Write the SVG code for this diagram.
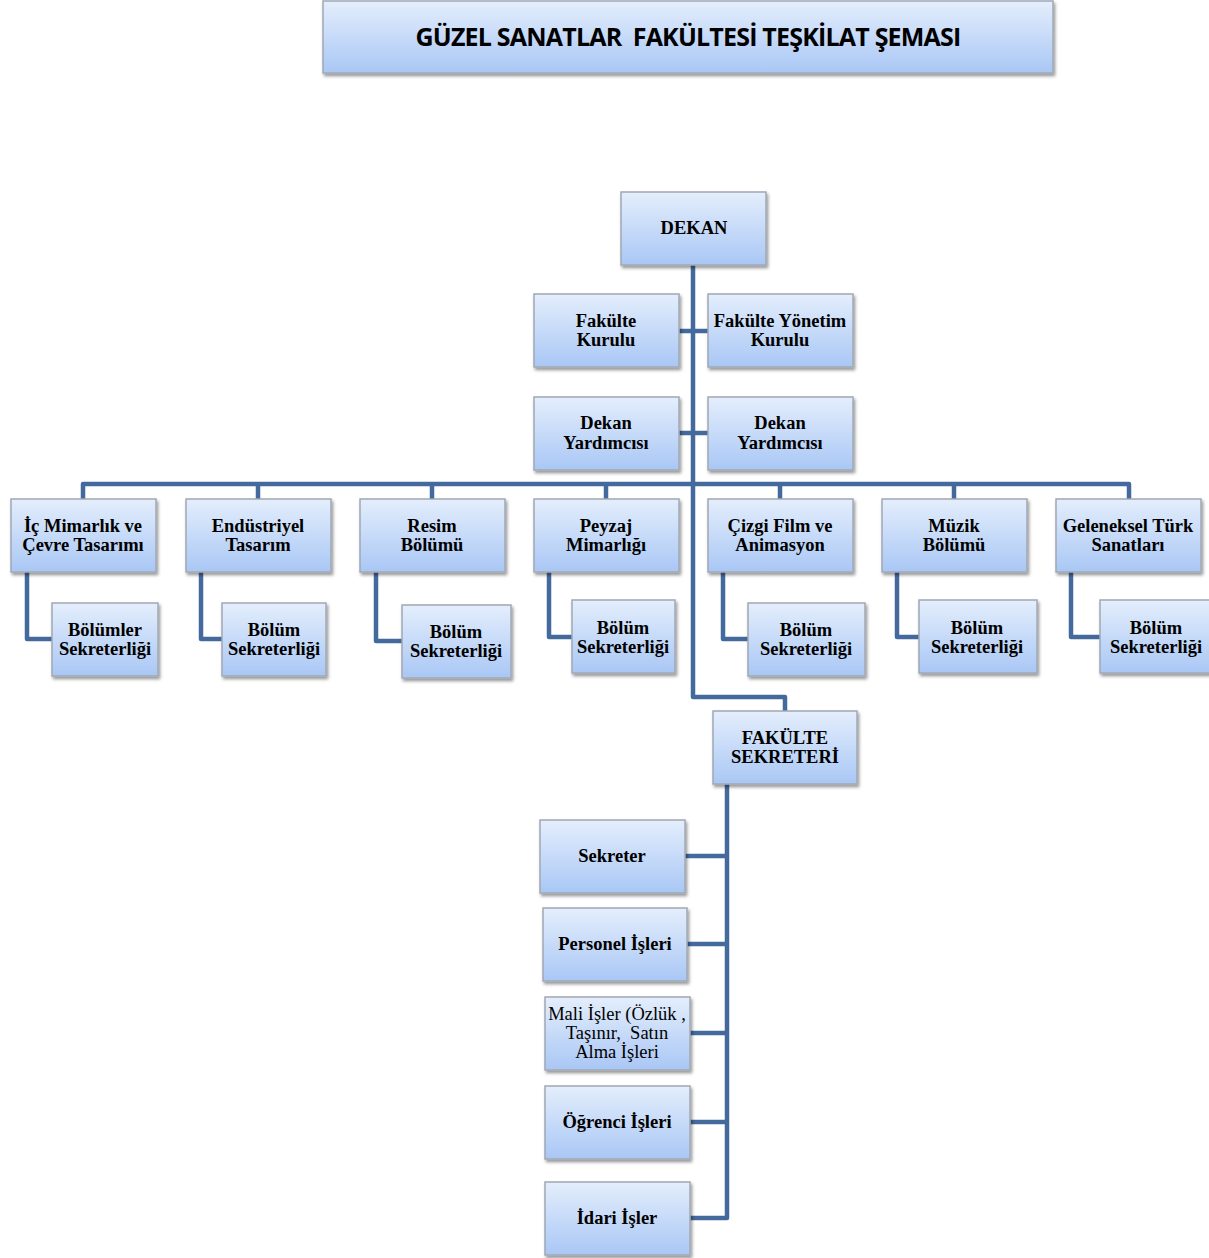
<svg xmlns="http://www.w3.org/2000/svg" width="1209" height="1258" viewBox="0 0 1209 1258">
<style>
.box{fill:url(#g);stroke:#a0a8b4;stroke-width:1.5;filter:url(#sh)}
.t{font-family:"Liberation Serif","Times New Roman",serif;font-weight:bold;font-size:18.5px;fill:#000;text-anchor:middle;white-space:pre}
.r{font-weight:normal}
.ttl{font-family:"Open Sans","Liberation Sans",Arial,sans-serif;font-weight:bold;font-size:25px;fill:#000;text-anchor:middle;letter-spacing:-0.8px;white-space:pre}
.c{fill:none;stroke:#44699c;stroke-width:4.5;stroke-linejoin:round;stroke-linecap:butt}
</style>
<defs>
<linearGradient id="g" x1="0" y1="0" x2="0" y2="1">
<stop offset="0" stop-color="#e4eefc"/>
<stop offset="1" stop-color="#a9c7f5"/>
</linearGradient>
<filter id="sh" x="-10%" y="-10%" width="125%" height="130%">
<feDropShadow dx="1.5" dy="2.5" stdDeviation="1.5" flood-color="#000" flood-opacity="0.4"/>
</filter>
</defs>
<rect width="1209" height="1258" fill="#fff"/>
<g id="connectors">
<path class="c" d="M693 265 V697 H785 V711"/>
<path class="c" d="M679 331 H708 M679 433 H708"/>
<path class="c" d="M83 499 V484 H1129 V499"/>
<path class="c" d="M258 484 V499 M432 484 V499 M606 484 V499 M780 484 V499 M954 484 V499"/>
<path class="c" d="M27 572 V639 H52"/>
<path class="c" d="M201 572 V639 H222"/>
<path class="c" d="M376 572 V641 H402"/>
<path class="c" d="M549 572 V637 H572"/>
<path class="c" d="M723 572 V639 H748"/>
<path class="c" d="M897 572 V637 H919"/>
<path class="c" d="M1071 572 V637 H1100"/>
<path class="c" d="M727 784 V1218 H690"/>
<path class="c" d="M685 856 H727 M687 944 H727 M690 1033 H727 M690 1122 H727"/>
</g>
<g id="title"><rect class="box" x="323" y="1" width="730" height="72"/><text class="ttl" x="688" y="46" xml:space="preserve">GÜZEL SANATLAR  FAKÜLTESİ TEŞKİLAT ŞEMASI</text></g>
<g id="dekan"><rect class="box" x="621" y="192" width="145" height="73"/><text class="t" x="694" y="234">DEKAN</text></g>
<g id="fakulte-kurulu"><rect class="box" x="534" y="294" width="145" height="73"/><text class="t" x="606" y="327">Fakülte</text><text class="t" x="606" y="346">Kurulu</text></g>
<g id="fakulte-yonetim-kurulu"><rect class="box" x="708" y="294" width="145" height="73"/><text class="t" x="780" y="327">Fakülte Yönetim</text><text class="t" x="780" y="346">Kurulu</text></g>
<g id="dekan-yardimcisi-1"><rect class="box" x="534" y="397" width="145" height="73"/><text class="t" x="606" y="429">Dekan</text><text class="t" x="606" y="449">Yardımcısı</text></g>
<g id="dekan-yardimcisi-2"><rect class="box" x="708" y="397" width="145" height="73"/><text class="t" x="780" y="429">Dekan</text><text class="t" x="780" y="449">Yardımcısı</text></g>
<g id="ic-mimarlik"><rect class="box" x="11" y="499" width="145" height="73"/><text class="t" x="83" y="532">İç Mimarlık ve</text><text class="t" x="83" y="551">Çevre Tasarımı</text></g>
<g id="endustriyel"><rect class="box" x="186" y="499" width="145" height="73"/><text class="t" x="258" y="532">Endüstriyel</text><text class="t" x="258" y="551">Tasarım</text></g>
<g id="resim"><rect class="box" x="360" y="499" width="145" height="73"/><text class="t" x="432" y="532">Resim</text><text class="t" x="432" y="551">Bölümü</text></g>
<g id="peyzaj"><rect class="box" x="534" y="499" width="145" height="73"/><text class="t" x="606" y="532">Peyzaj</text><text class="t" x="606" y="551">Mimarlığı</text></g>
<g id="cizgi-film"><rect class="box" x="708" y="499" width="145" height="73"/><text class="t" x="780" y="532">Çizgi Film ve</text><text class="t" x="780" y="551">Animasyon</text></g>
<g id="muzik"><rect class="box" x="882" y="499" width="145" height="73"/><text class="t" x="954" y="532">Müzik</text><text class="t" x="954" y="551">Bölümü</text></g>
<g id="geleneksel"><rect class="box" x="1056" y="499" width="145" height="73"/><text class="t" x="1128" y="532">Geleneksel Türk</text><text class="t" x="1128" y="551">Sanatları</text></g>
<g id="sek-1"><rect class="box" x="52" y="603" width="106" height="73"/><text class="t" x="105" y="636">Bölümler</text><text class="t" x="105" y="655">Sekreterliği</text></g>
<g id="sek-2"><rect class="box" x="222" y="603" width="104" height="73"/><text class="t" x="274" y="636">Bölüm</text><text class="t" x="274" y="655">Sekreterliği</text></g>
<g id="sek-3"><rect class="box" x="402" y="605" width="109" height="73"/><text class="t" x="456" y="638">Bölüm</text><text class="t" x="456" y="657">Sekreterliği</text></g>
<g id="sek-4"><rect class="box" x="572" y="600" width="103" height="73"/><text class="t" x="623" y="634">Bölüm</text><text class="t" x="623" y="653">Sekreterliği</text></g>
<g id="sek-5"><rect class="box" x="748" y="603" width="117" height="73"/><text class="t" x="806" y="636">Bölüm</text><text class="t" x="806" y="655">Sekreterliği</text></g>
<g id="sek-6"><rect class="box" x="919" y="600" width="118" height="73"/><text class="t" x="977" y="634">Bölüm</text><text class="t" x="977" y="653">Sekreterliği</text></g>
<g id="sek-7"><rect class="box" x="1100" y="600" width="112" height="73"/><text class="t" x="1156" y="634">Bölüm</text><text class="t" x="1156" y="653">Sekreterliği</text></g>
<g id="fakulte-sekreteri"><rect class="box" x="713" y="711" width="144" height="73"/><text class="t" x="785" y="744">FAKÜLTE</text><text class="t" x="785" y="763">SEKRETERİ</text></g>
<g id="sekreter"><rect class="box" x="540" y="820" width="145" height="73"/><text class="t" x="612" y="862">Sekreter</text></g>
<g id="personel"><rect class="box" x="543" y="908" width="144" height="73"/><text class="t" x="615" y="950">Personel İşleri</text></g>
<g id="mali"><rect class="box" x="545" y="997" width="145" height="73"/><text class="t r" x="617" y="1020">Mali İşler (Özlük ,</text><text class="t r" x="617" y="1039" xml:space="preserve">Taşınır,  Satın</text><text class="t r" x="617" y="1058">Alma İşleri</text></g>
<g id="ogrenci"><rect class="box" x="545" y="1086" width="145" height="73"/><text class="t" x="617" y="1128">Öğrenci İşleri</text></g>
<g id="idari"><rect class="box" x="545" y="1182" width="145" height="73"/><text class="t" x="617" y="1224">İdari İşler</text></g>
</svg>
